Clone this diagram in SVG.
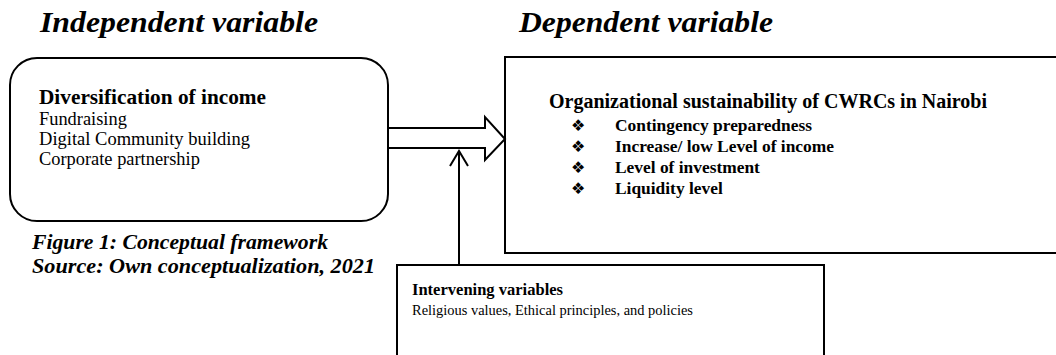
<svg xmlns="http://www.w3.org/2000/svg" width="1056" height="355" viewBox="0 0 1056 355">
<style>
.box{fill:#fff;stroke:#000;stroke-width:2}
.line{fill:none;stroke:#000;stroke-width:2}
.hd{font-family:"Liberation Serif",serif;font-weight:bold;font-style:italic;fill:#000}
.b{font-family:"Liberation Serif",serif;font-weight:bold;fill:#000}
.r{font-family:"Liberation Serif",serif;fill:#000}
.bul{font-family:"DejaVu Sans",sans-serif;fill:#000}
</style>
<rect width="1056" height="355" fill="#fff"/>
<g id="headings">
<text class="hd" x="40" y="32" font-size="30" textLength="278" lengthAdjust="spacingAndGlyphs">Independent variable</text>
<text class="hd" x="519" y="32" font-size="30" textLength="254" lengthAdjust="spacingAndGlyphs">Dependent variable</text>
</g>
<g id="independent">
<rect class="box" x="10" y="58" width="378" height="163" rx="27" ry="27"/>
<text class="b" x="39" y="104" font-size="20" textLength="227" lengthAdjust="spacingAndGlyphs">Diversification of income</text>
<text class="r" x="39" y="125" font-size="18.4">Fundraising</text>
<text class="r" x="39" y="145" font-size="18.4" textLength="211" lengthAdjust="spacingAndGlyphs">Digital Community building</text>
<text class="r" x="39" y="165" font-size="18.4">Corporate partnership</text>
</g>
<g id="dependent">
<rect class="box" x="505" y="57" width="600" height="196"/>
<text class="b" x="549" y="108" font-size="20" textLength="438" lengthAdjust="spacingAndGlyphs">Organizational sustainability of CWRCs in Nairobi</text>
<text class="bul" x="571" y="131" font-size="16">❖</text>
<text class="b" x="615" y="131" font-size="17.4">Contingency preparedness</text>
<text class="bul" x="571" y="152" font-size="16">❖</text>
<text class="b" x="615" y="152" font-size="17.4">Increase/ low Level of income</text>
<text class="bul" x="571" y="173" font-size="16">❖</text>
<text class="b" x="615" y="173" font-size="17.4">Level of investment</text>
<text class="bul" x="571" y="194" font-size="16">❖</text>
<text class="b" x="615" y="194" font-size="17.4">Liquidity level</text>
</g>
<g id="intervening">
<rect class="box" x="397" y="265" width="427" height="120"/>
<text class="b" x="412" y="295" font-size="16" textLength="151" lengthAdjust="spacingAndGlyphs">Intervening variables</text>
<text class="r" x="412" y="315" font-size="14.3" textLength="281" lengthAdjust="spacingAndGlyphs">Religious values, Ethical principles, and policies</text>
</g>
<g id="caption">
<text class="hd" x="32" y="249" font-size="22" textLength="296" lengthAdjust="spacingAndGlyphs">Figure 1: Conceptual framework</text>
<text class="hd" x="32" y="273" font-size="22" textLength="343" lengthAdjust="spacingAndGlyphs">Source: Own conceptualization, 2021</text>
</g>
<g id="connectors">
<path class="line" d="M388,128 H485 V117 L505,139 L485,160 V148 H388" fill="#fff"/>
<line class="line" x1="459" y1="265" x2="459" y2="151"/>
<polyline class="line" points="450,166 459,151 468,166"/>
</g>
</svg>
